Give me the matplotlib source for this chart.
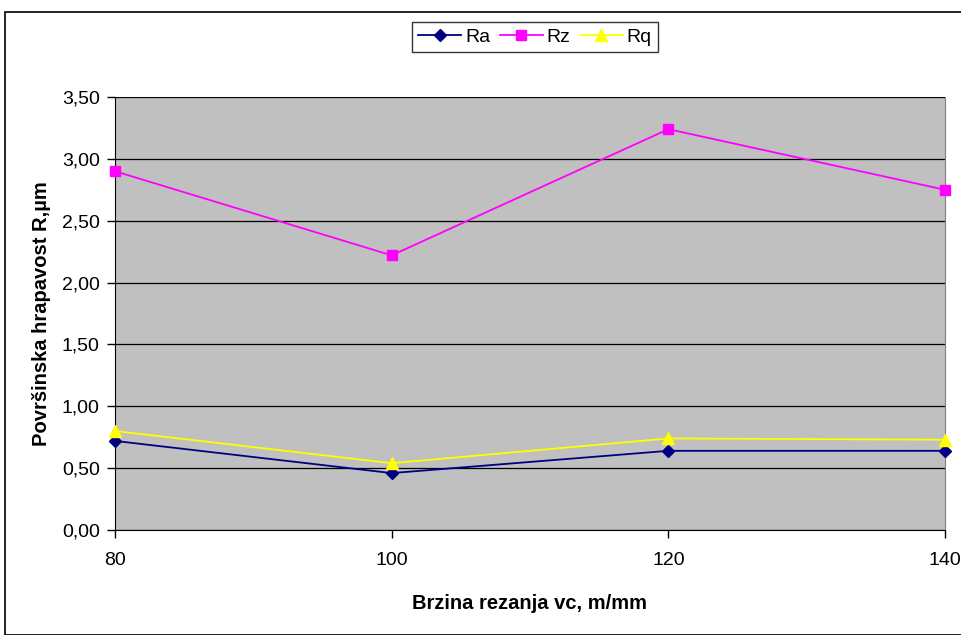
import matplotlib
matplotlib.use('Agg')
import matplotlib.pyplot as plt
from matplotlib.patches import Rectangle
from matplotlib.ticker import FuncFormatter

plt.rcParams['font.family'] = ['Liberation Sans', 'DejaVu Sans']

# cutting speed and roughness values
speed = [80, 100, 120, 140]
ra = [0.72, 0.46, 0.64, 0.64]
rz = [2.90, 2.22, 3.24, 2.75]
rq = [0.80, 0.54, 0.74, 0.73]

fig = plt.figure(figsize=(9.61, 6.35), dpi=100)
fig.patches.append(Rectangle((5/961, 0.0), 1.0, 1 - 12/635, transform=fig.transFigure,
                             fill=False, edgecolor='black', linewidth=1.2))
ax = fig.add_axes([115/961, 1 - 530/635, 830/961, 433/635])
ax.set_facecolor('#C0C0C0')

ax.plot(speed, ra, color='#000080', marker='D', markersize=6, linewidth=1.3, label='Ra', clip_on=False, zorder=3)
ax.plot(speed, rz, color='#FF00FF', marker='s', markersize=6.5, linewidth=1.3, label='Rz', clip_on=False, zorder=3)
ax.plot(speed, rq, color='#FFFF00', marker='^', markersize=8, linewidth=1.3, label='Rq', clip_on=False, zorder=3)

ax.set_xlim(80, 140)
ax.set_ylim(0, 3.5)
ax.set_xticks(speed)
ax.set_yticks([0, 0.5, 1.0, 1.5, 2.0, 2.5, 3.0, 3.5])
ax.yaxis.set_major_formatter(FuncFormatter(lambda v, p: f"{v:.2f}".replace('.', ',')))
ax.grid(axis='y', color='black', linewidth=0.9)
ax.set_axisbelow(True)
ax.spines['top'].set_visible(False)
ax.spines['right'].set_color('#808080')
ax.spines['left'].set_color('black')
ax.spines['bottom'].set_color('black')
ax.tick_params(axis='both', direction='out', length=6, labelsize=14, width=1)
ax.tick_params(axis='x', pad=10)
ax.tick_params(axis='y', pad=5)

ax.set_xlabel('Brzina rezanja vc, m/mm', fontsize=14.5, fontweight='bold', labelpad=18)
ax.set_ylabel('Površinska hrapavost R,µm', fontsize=14.5, fontweight='bold', labelpad=8)

leg = fig.legend(loc='center', bbox_to_anchor=(535/961, 1 - 37/635), ncol=3, fontsize=14,
                 frameon=True, fancybox=False, edgecolor='black', handlelength=2.2,
                 columnspacing=0.5, handletextpad=0.2, borderpad=0.3)
leg.get_frame().set_linewidth(1.0)

plt.savefig('out.png', dpi=100)
plt.close()
